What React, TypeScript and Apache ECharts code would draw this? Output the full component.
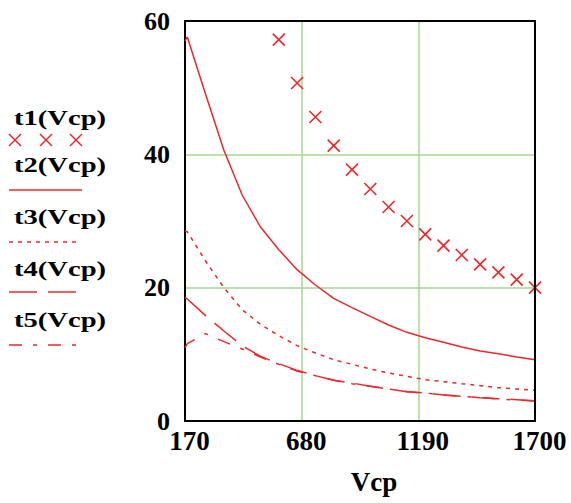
import React, { useEffect, useRef } from "react";
import * as echarts from "echarts";

const Vcp = [170, 180, 260, 340, 420, 500, 580, 660, 740, 820, 900, 980, 1060, 1140, 1220, 1300, 1380, 1460, 1540, 1620, 1700];
const t1 = [null, null, null, null, null, null, 57.2, 50.7, 45.6, 41.3, 37.7, 34.8, 32.1, 30.0, 28.0, 26.3, 24.9, 23.5, 22.3, 21.2, 20.0];
const t2 = [57.0, 57.6, 49.0, 40.6, 33.9, 29.1, 25.7, 22.7, 20.4, 18.4, 17.0, 15.7, 14.4, 13.3, 12.5, 11.8, 11.1, 10.5, 10.1, 9.6, 9.2];
const t3 = [28.5, 28.4, 24.0, 20.0, 16.7, 14.5, 12.8, 11.3, 10.2, 9.2, 8.5, 7.8, 7.2, 6.7, 6.2, 5.9, 5.6, 5.3, 5.0, 4.8, 4.6];
const t4 = [18.5, 18.3, 15.8, 13.5, 11.3, 9.7, 8.6, 7.6, 6.8, 6.1, 5.7, 5.2, 4.8, 4.4, 4.2, 3.9, 3.7, 3.5, 3.35, 3.2, 3.05];
const t5 = [11.0, 11.6, 13.1, 11.9, 10.8, 9.6, 8.5, 7.5, 6.8, 6.1, 5.6, 5.2, 4.8, 4.4, 4.2, 3.9, 3.7, 3.5, 3.3, 3.15, 3.0];

const xTicks = [170, 680, 1190, 1700];
const yTicks = [0, 20, 40, 60];
const legendNames = ["t1(Vcp)", "t2(Vcp)", "t3(Vcp)", "t4(Vcp)", "t5(Vcp)"];
const xName = "Vcp";

const RED = "#f0262a";
const GREEN = "#a3d88f";
const FONT = '"Liberation Serif", "Times New Roman", serif';

const pairs = (ys: (number | null)[]) =>
  Vcp.map((v, i) => [v, ys[i]]).filter((p) => p[1] !== null);

export default function App() {
  const ref = useRef<HTMLDivElement>(null);
  useEffect(() => {
    if (!ref.current) return;
    const chart = echarts.init(ref.current, null, { renderer: "svg" });

    const textY = [117.5, 165, 217, 268.5, 320];
    const graphics: any[] = [];
    legendNames.forEach((name, i) => {
      graphics.push({
        type: "text",
        x: 14,
        y: textY[i],
        scaleX: 1.3,
        style: {
          text: name,
          font: `bold 22px ${FONT}`,
          fill: "#000",
          verticalAlign: "middle",
          textVerticalAlign: "middle",
        },
      });
    });
    [15, 46, 76].forEach((cx) => {
      graphics.push({ type: "line", shape: { x1: cx - 6, y1: 134, x2: cx + 6, y2: 146 }, style: { stroke: RED, lineWidth: 1.5 } });
      graphics.push({ type: "line", shape: { x1: cx - 6, y1: 146, x2: cx + 6, y2: 134 }, style: { stroke: RED, lineWidth: 1.5 } });
    });
    const legendLines = [
      { y: 190, dash: null as any },
      { y: 242, dash: [4, 5] },
      { y: 292, dash: [28, 11] },
      { y: 345, dash: [13, 11, 4, 11] },
    ];
    legendLines.forEach((l) => {
      graphics.push({
        type: "line",
        shape: { x1: 9, y1: l.y, x2: l.dash ? 80 : 82, y2: l.y },
        style: { stroke: RED, lineWidth: 1.5, lineDash: l.dash || undefined },
      });
    });

    const axisText = { fontFamily: FONT, fontWeight: "bold", color: "#000" };

    chart.setOption({
      animation: false,
      grid: { left: 185, right: 36, top: 21, bottom: 82, containLabel: false },
      xAxis: [
        {
          type: "value",
          min: xTicks[0],
          max: xTicks[xTicks.length - 1],
          position: "bottom",
          name: xName,
          nameLocation: "middle",
          nameGap: 47,
          nameTextStyle: { ...axisText, fontSize: 27, padding: [0, 0, 0, 28] },
          axisLine: { show: true, onZero: false, lineStyle: { color: "#000", width: 2 } },
          axisTick: { show: false },
          splitLine: { show: false },
          axisLabel: {
            ...axisText,
            fontSize: 27,
            margin: 6,
            padding: [0, 0, 0, 9],
            customValues: xTicks,
            formatter: (v: number) => String(v),
          },
          z: 10,
        },
        {
          type: "value",
          min: xTicks[0],
          max: xTicks[xTicks.length - 1],
          position: "top",
          axisLine: { show: true, onZero: false, lineStyle: { color: "#000", width: 2 } },
          axisTick: { show: false },
          axisLabel: { show: false },
          splitLine: { show: false },
          z: 10,
        },
      ],
      yAxis: [
        {
          type: "value",
          min: yTicks[0],
          max: yTicks[yTicks.length - 1],
          interval: yTicks[1] - yTicks[0],
          axisLine: { show: true, onZero: false, lineStyle: { color: "#000", width: 2 } },
          axisTick: { show: false },
          splitLine: { show: true, lineStyle: { color: GREEN, width: 1.5 } },
          axisLabel: { ...axisText, fontSize: 26, margin: 15, padding: [7, 0, 0, 0], formatter: (v: number) => String(v) },
        },
        {
          type: "value",
          min: yTicks[0],
          max: yTicks[yTicks.length - 1],
          position: "right",
          axisLine: { show: true, onZero: false, lineStyle: { color: "#000", width: 2 } },
          axisTick: { show: false },
          axisLabel: { show: false },
          splitLine: { show: false },
          z: 10,
        },
      ],
      series: [
        {
          type: "line",
          data: pairs(t2),
          symbol: "none",
          lineStyle: { opacity: 0 },
          silent: true,
          z: 1,
          markLine: {
            silent: true,
            z: 1,
            symbol: ["none", "none"],
            label: { show: false },
            lineStyle: { color: GREEN, width: 1.5, type: "solid" },
            data: xTicks.slice(1, -1).map((v) => ({ xAxis: v })),
          },
        },
        {
          name: legendNames[0],
          type: "scatter",
          data: pairs(t1),
          symbol: "path://M0,0L10,10M10,0L0,10",
          symbolSize: 12,
          itemStyle: { color: "rgba(0,0,0,0)", borderColor: RED, borderWidth: 1.6, opacity: 1 },
          z: 3,
        },
        {
          name: legendNames[1],
          type: "line",
          data: pairs(t2),
          symbol: "none",
          lineStyle: { color: RED, width: 1.5, type: "solid" },
          z: 3,
        },
        {
          name: legendNames[2],
          type: "line",
          data: pairs(t3),
          symbol: "none",
          lineStyle: { color: RED, width: 1.5, type: [4, 5] },
          z: 3,
        },
        {
          name: legendNames[3],
          type: "line",
          data: pairs(t4),
          symbol: "none",
          lineStyle: { color: RED, width: 1.5, type: [28, 11] },
          z: 3,
        },
        {
          name: legendNames[4],
          type: "line",
          data: pairs(t5),
          symbol: "none",
          lineStyle: { color: RED, width: 1.5, type: [13, 11, 4, 11] },
          z: 3,
        },
      ],
      graphic: graphics,
    });
    return () => chart.dispose();
  }, []);
  return (
    <div
      ref={ref}
      style={{ position: "absolute", left: 0, top: 0, width: 571, height: 503, background: "#fff" }}
    />
  );
}
